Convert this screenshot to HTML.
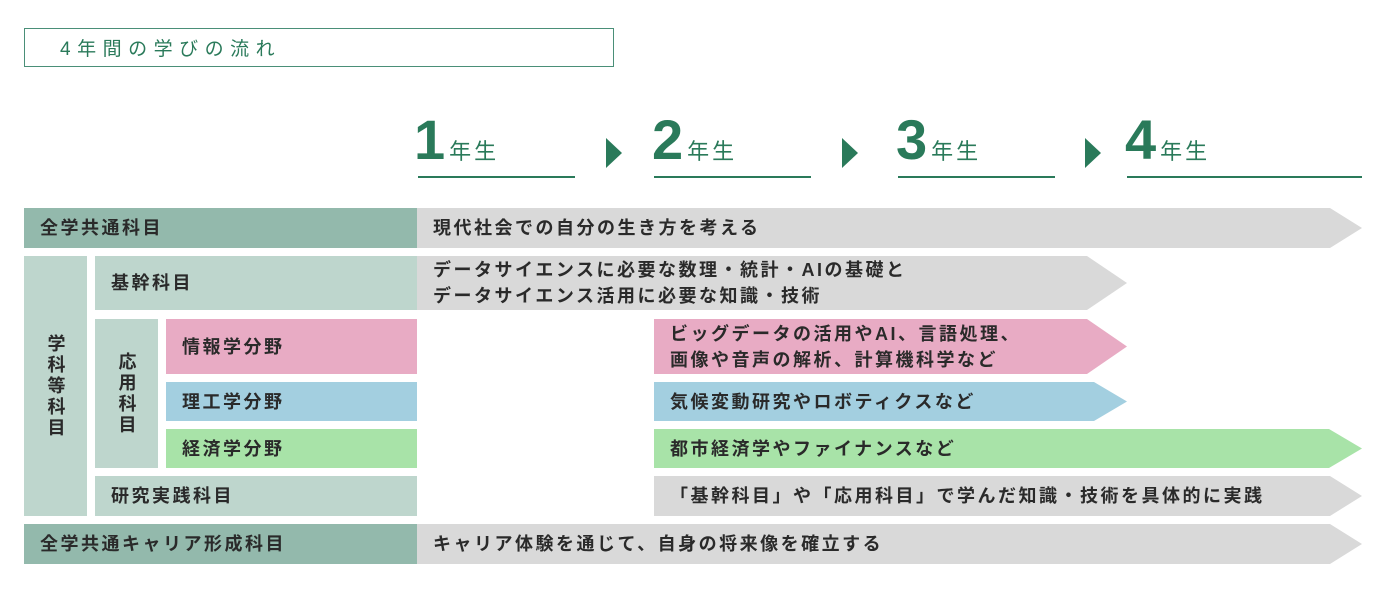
<!DOCTYPE html>
<html><head><meta charset="utf-8"><style>
body{margin:0;width:1396px;height:595px;background:#fff;position:relative;overflow:hidden;font-family:"Liberation Sans","Noto Sans CJK JP",sans-serif;color:#222}
.a{position:absolute;box-sizing:border-box}
.t{display:flex;align-items:center;font-size:18px;line-height:26px;padding-left:16px;letter-spacing:2.5px;font-weight:bold;color:#2a2a2a}
.dk{background:#93b9ac}.lt{background:#bed6cd}.gr{background:#d9d9d9}
.pk{background:#e8abc4}.bl{background:#a3cfe0}.gn{background:#a8e3a8}
.yr{position:absolute;top:112px;color:#2a7a5a;font-weight:bold;font-size:56px;line-height:56px}
.yr span{font-size:22px;font-weight:normal;letter-spacing:3px;margin-left:4px}
.ul{position:absolute;top:176px;height:2px;background:#2a7a5a}
.tri{position:absolute;top:138px;width:0;height:0;border-top:15px solid transparent;border-bottom:15px solid transparent;border-left:16px solid #2a7a5a}
.v{writing-mode:vertical-rl;justify-content:center;padding:0;letter-spacing:3px}
</style></head><body>
<div class="a" style="left:24px;top:28px;width:590px;height:39px;border:1.5px solid #4a8f78;color:#2a7a5a;font-size:19px;letter-spacing:6.5px;padding:5px 0 0 35px">4年間の学びの流れ</div>

<div class="yr" style="left:414px">1<span>年生</span></div><div class="ul" style="left:418px;width:157px"></div>
<div class="tri" style="left:606px"></div>
<div class="yr" style="left:652px">2<span>年生</span></div><div class="ul" style="left:654px;width:157px"></div>
<div class="tri" style="left:842px"></div>
<div class="yr" style="left:896px">3<span>年生</span></div><div class="ul" style="left:898px;width:157px"></div>
<div class="tri" style="left:1085px"></div>
<div class="yr" style="left:1125px">4<span>年生</span></div><div class="ul" style="left:1127px;width:235px"></div>

<div class="a t dk" style="left:24px;top:208px;width:393px;height:40px">全学共通科目</div>
<div class="a t gr" style="left:417px;top:208px;width:945px;height:40px;clip-path:polygon(0 0,913px 0,100% 50%,913px 100%,0 100%)">現代社会での自分の生き方を考える</div>

<div class="a t lt v" style="left:24px;top:256px;width:63px;height:260px">学科等科目</div>
<div class="a t lt" style="left:95px;top:256px;width:322px;height:54px">基幹科目</div>
<div class="a t gr" style="left:417px;top:256px;width:710px;height:54px;clip-path:polygon(0 0,670px 0,100% 50%,670px 100%,0 100%)">データサイエンスに必要な数理・統計・AIの基礎と<br>データサイエンス活用に必要な知識・技術</div>

<div class="a t lt v" style="left:95px;top:319px;width:63px;height:149px">応用科目</div>
<div class="a t pk" style="left:166px;top:319px;width:251px;height:55px">情報学分野</div>
<div class="a t pk" style="left:654px;top:319px;width:473px;height:55px;clip-path:polygon(0 0,433px 0,100% 50%,433px 100%,0 100%)">ビッグデータの活用やAI、言語処理、<br>画像や音声の解析、計算機科学など</div>
<div class="a t bl" style="left:166px;top:382px;width:251px;height:39px">理工学分野</div>
<div class="a t bl" style="left:654px;top:382px;width:473px;height:39px;clip-path:polygon(0 0,440px 0,100% 50%,440px 100%,0 100%)">気候変動研究やロボティクスなど</div>
<div class="a t gn" style="left:166px;top:429px;width:251px;height:39px">経済学分野</div>
<div class="a t gn" style="left:654px;top:429px;width:708px;height:39px;clip-path:polygon(0 0,675px 0,100% 50%,675px 100%,0 100%)">都市経済学やファイナンスなど</div>

<div class="a t lt" style="left:95px;top:476px;width:322px;height:40px">研究実践科目</div>
<div class="a t gr" style="left:654px;top:476px;width:708px;height:40px;clip-path:polygon(0 0,676px 0,100% 50%,676px 100%,0 100%)">「基幹科目」や「応用科目」で学んだ知識・技術を具体的に実践</div>

<div class="a t dk" style="left:24px;top:524px;width:393px;height:40px">全学共通キャリア形成科目</div>
<div class="a t gr" style="left:417px;top:524px;width:945px;height:40px;clip-path:polygon(0 0,913px 0,100% 50%,913px 100%,0 100%)">キャリア体験を通じて、自身の将来像を確立する</div>
</body></html>
